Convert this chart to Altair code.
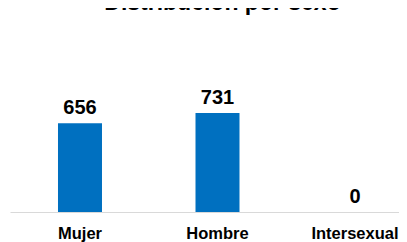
import altair as alt
import pandas as pd

categories = ["Mujer", "Hombre", "Intersexual"]
values = [656, 731, 0]

df = pd.DataFrame({"sexo": categories, "valor": values})

FONT = "Liberation Sans"

x = alt.X(
    "sexo:N",
    sort=categories,
    title=None,
    scale=alt.Scale(paddingInner=0.68, paddingOuter=0.2545, align=0.6857),
    axis=alt.Axis(
        labelAngle=0,
        labelFont=FONT,
        labelFontSize=16.5,
        labelFontWeight="bold",
        labelColor="#000000",
        labelBaseline="alphabetic",
        labelPadding=26,
        ticks=False,
        tickSize=0,
        domainColor="#d9d9d9",
        domainWidth=1,
        grid=False,
    ),
)
y = alt.Y("valor:Q", scale=alt.Scale(domain=[0, 1360]), axis=None)

bars = alt.Chart(df).mark_bar(color="#0070C0").encode(x=x, y=y)
labels = alt.Chart(df).mark_text(
    font=FONT, fontSize=20, fontWeight="bold", color="#000000",
    baseline="alphabetic", dy=-9
).encode(x=x, y=y, text="valor:Q")

chart = (
    alt.layer(bars, labels)
    .properties(
        width=389,
        height=184,
        padding={"left": 2, "top": 20, "right": 0, "bottom": 30},
        autosize=alt.AutoSizeParams(type="none"),
        title=alt.Title(
            "Distribución por sexo",
            font=FONT,
            fontSize=23,
            fontWeight="bold",
            color="#000000",
            baseline="alphabetic",
            offset=-5,
            dx=18,
            anchor="middle",
        ),
    )
    .configure_view(stroke=None)
)

chart.save("out.html", embed_options={"renderer": "svg", "actions": False})
